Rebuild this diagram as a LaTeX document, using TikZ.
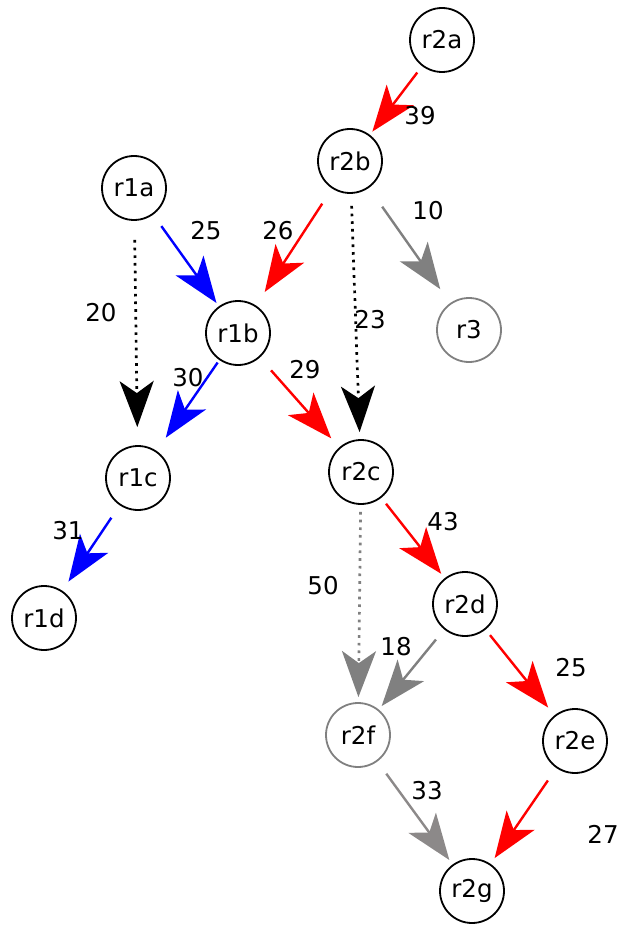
\documentclass[tikz,border=0pt]{standalone}
\usepackage{fontspec}
\setmainfont{DejaVu Sans}
\usetikzlibrary{arrows.meta}
\definecolor{cRed}{RGB}{255, 0, 0}
\definecolor{cBlue}{RGB}{0, 0, 255}
\definecolor{cGray}{RGB}{128, 128, 128}
\definecolor{cGrayLt}{RGB}{140, 137, 137}
\tikzset{
    font=\fontsize{24.5}{28}\selectfont,
    % circle nodes
    state/.style={
        circle, draw=black, line width=1.8pt,
        minimum size=64pt, inner sep=0pt
    },
    stateGray/.style={state, draw=cGray},
    % connectors
    link/.style={line width=2.4pt, -{Stealth[length=46pt, width=34pt, inset=12pt]}},
    redLink/.style={link, color=cRed},
    blueLink/.style={link, color=cBlue},
    grayLink/.style={link, color=cGray},
    dotLink/.style={link, line width=2.7pt, dash pattern=on 2.7pt off 5pt},
    % weights
    weight/.style={inner sep=0pt}
}

\begin{document}
\begin{tikzpicture}[x=1pt, y=-1pt]

	\useasboundingbox (0,0) rectangle (618,925);

	% ==========================================
	% nodes
	% ==========================================
	\node [state] (r2a) at (442,40) {r2a};
	\node [state] (r2b) at (350,161) {r2b};
	\node [state] (r1a) at (134,188) {r1a};
	\node [state] (r1b) at (238,333) {r1b};
	\node [stateGray] (r3) at (469,330) {r3};
	\node [state] (r1c) at (138,478) {r1c};
	\node [state] (r2c) at (361,472) {r2c};
	\node [state] (r1d) at (44,618) {r1d};
	\node [state] (r2d) at (465,604) {r2d};
	\node [stateGray] (r2f) at (358,735) {r2f};
	\node [state] (r2e) at (575,741) {r2e};
	\node [state] (r2g) at (472,891) {r2g};

	% ==========================================
	% connectors
	% ==========================================
	\draw [redLink, shorten <=8pt, shorten >=4pt] (r2a) -- (r2b);
	\draw [redLink, shorten <=18pt, shorten >=16pt] (r2b) -- (r1b);
	\draw [blueLink, shorten <=14pt, shorten >=4pt] (r1a) -- (r1b);
	\draw [dotLink, shorten <=19pt, shorten >=18pt] (r1a) -- (r1c);
	\draw [dotLink, shorten <=12pt, shorten >=7pt] (r2b) -- (r2c);
	\draw [grayLink, shorten <=23pt, shorten >=17pt] (r2b) -- (r3);
	\draw [blueLink, shorten <=3pt, shorten >=16pt] (r1b) -- (r1c);
	\draw [redLink, shorten <=17pt, shorten >=12pt] (r1b) -- (r2c);
	\draw [blueLink, shorten <=15pt, shorten >=11pt] (r1c) -- (r1d);
	\draw [redLink, shorten <=7.5pt, shorten >=5.5pt] (r2c) -- (r2d);
	\draw [dotLink, color=cGray, shorten <=7pt, shorten >=5pt] (r2c) -- (r2f);
	\draw [grayLink, shorten <=13pt, shorten >=4.5pt] (r2d) -- (r2f);
	\draw [redLink, shorten <=7pt, shorten >=10pt] (r2d) -- (r2e);
	\draw [link, color=cGrayLt, shorten <=15pt, shorten >=5.5pt] (r2f) -- (r2g);
	\draw [redLink, shorten <=15pt, shorten >=7pt] (r2e) -- (r2g);

	% --- weights ---
	\node [weight] (w39) at (420,116) {39};
	\node [weight] (w25a) at (206,231) {25};
	\node [weight] (w26) at (278,231) {26};
	\node [weight] (w10) at (428,211) {10};
	\node [weight] (w20) at (101,313) {20};
	\node [weight] (w23) at (370,320) {23};
	\node [weight] (w30) at (188,378) {30};
	\node [weight] (w29) at (305,370) {29};
	\node [weight] (w31) at (68,531) {31};
	\node [weight] (w43) at (443,522) {43};
	\node [weight] (w50) at (323,586) {50};
	\node [weight] (w18) at (396,647) {18};
	\node [weight] (w25b) at (571,668) {25};
	\node [weight] (w33) at (427,791) {33};
	\node [weight] (w27) at (603,834) {27};

\end{tikzpicture}
\end{document}
